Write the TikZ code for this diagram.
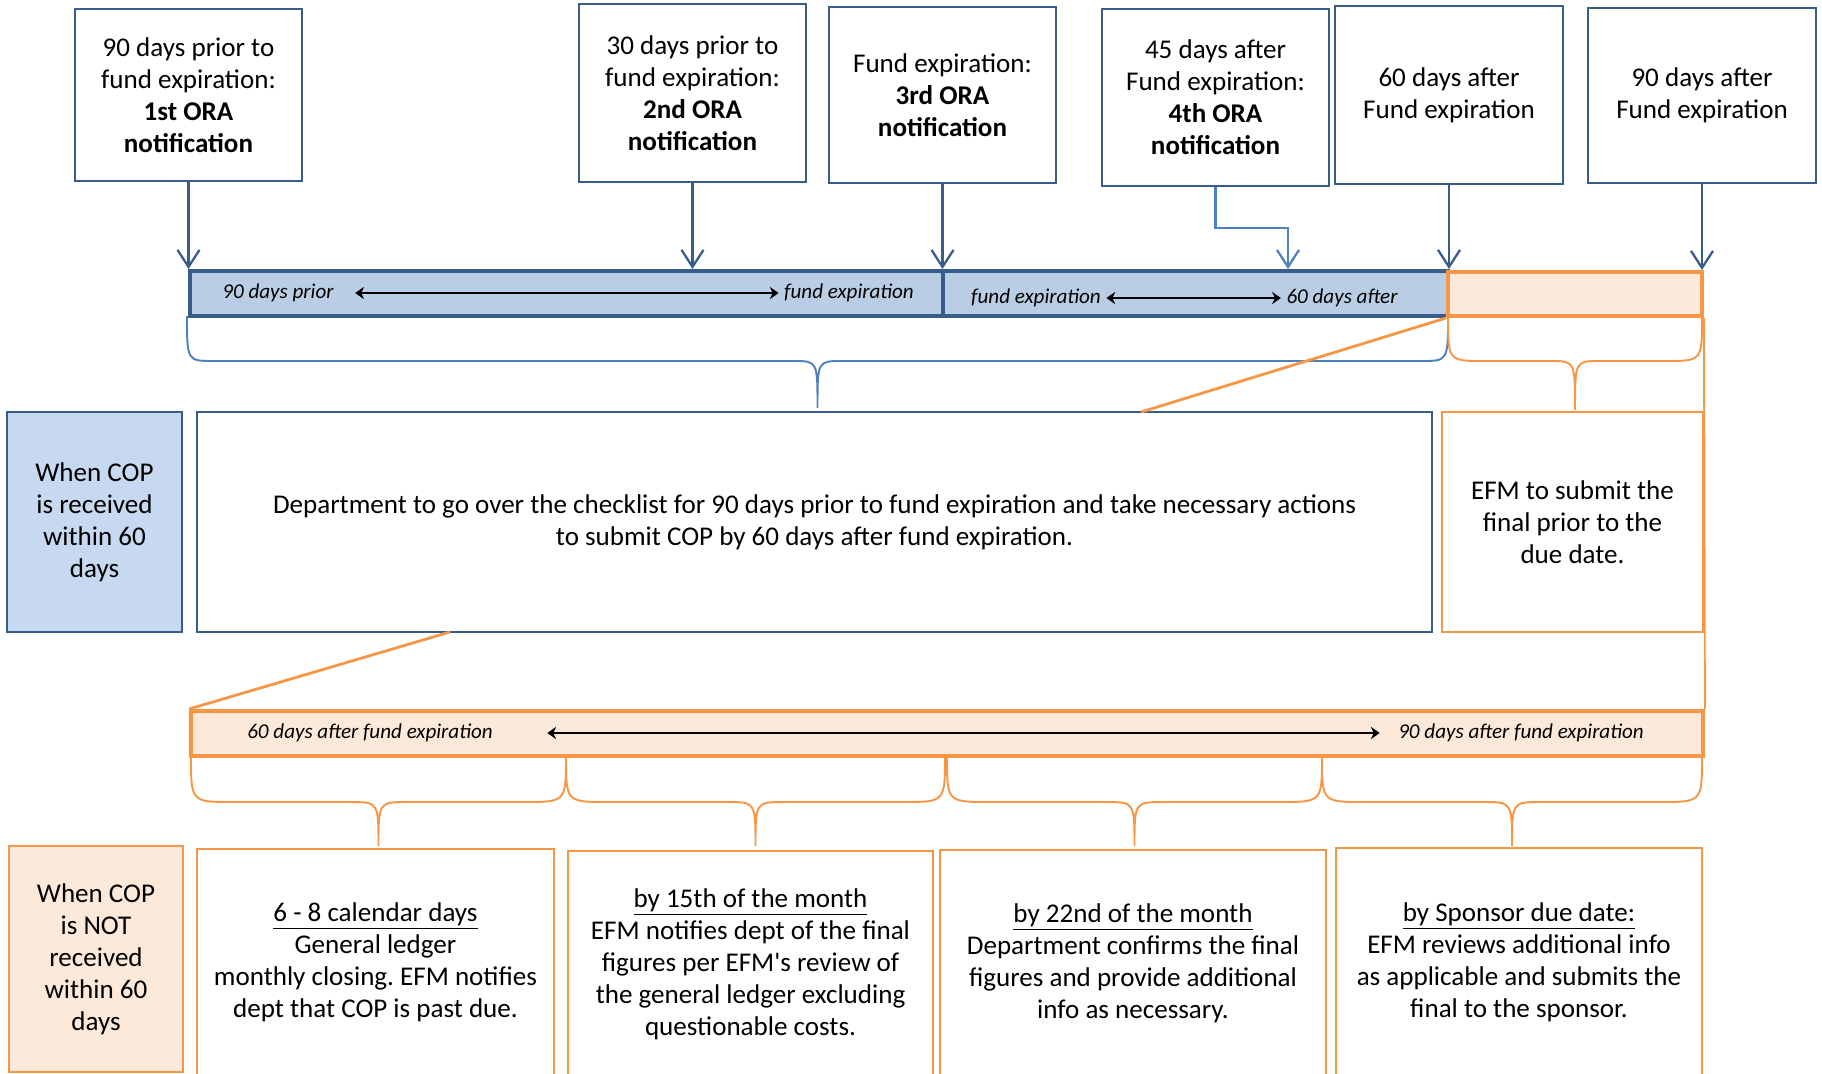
\documentclass[tikz,border=0pt]{standalone}
\usepackage{fontspec}
\setmainfont{Carlito}
\usetikzlibrary{arrows.meta}
\frenchspacing

\definecolor{navy}{HTML}{385D8A}
\definecolor{barblue}{HTML}{B9CDE5}
\definecolor{copblue}{HTML}{C6D9F1}
\definecolor{accblue}{HTML}{4F81BD}
\definecolor{accorange}{HTML}{F79646}
\definecolor{peach}{HTML}{FDE9D9}

\tikzset{
  notebox/.style={draw=navy, line width=1.4pt, fill=white, align=center, inner sep=0pt,
    font=\fontsize{15.4}{18.2}\selectfont},
  orangebox/.style={notebox, draw=accorange, line width=1.3pt},
  barseg/.style={draw=navy, line width=2.3pt, fill=barblue, inner sep=0pt},
  orangeseg/.style={draw=accorange, line width=2.3pt, fill=peach, inner sep=0pt},
  barlabel/.style={font=\itshape\fontsize{12}{14}\selectfont, inner sep=3pt},
  notearrow/.style={draw=navy, line width=1.3pt, -{Straight Barb[length=0.34cm, width=0.44cm]}},
  elbowarrow/.style={notearrow, draw=accblue},
  spanarrow/.style={line width=1.3pt, {Stealth[length=5pt, width=7pt]}-{Stealth[length=5pt, width=7pt]}},
  bluebrace/.style={draw=accblue, line width=1.1pt},
  orangebrace/.style={draw=accorange, line width=1.1pt},
  zoomline/.style={draw=accorange, line width=1.6pt},
}

% style, left x, right x, top y, bend y, tip y, end corner, mid corner
\newcommand{\curlybrace}[8]{%
  \draw[#1] (#2,#4) .. controls (#2,#5) .. ({#2+#7},#5)
    -- ({(#2+#3)/2-#8},#5) .. controls ({(#2+#3)/2},#5) .. ({(#2+#3)/2},#6)
    .. controls ({(#2+#3)/2},#5) .. ({(#2+#3)/2+#8},#5)
    -- ({#3-#7},#5) .. controls (#3,#5) .. (#3,#4);}

\begin{document}
\begin{tikzpicture}[x=0.02cm, y=-0.02cm]
  \useasboundingbox (0,0) rectangle (1822,1073);
  % Notifications
  \node[notebox, minimum width=4.54cm, minimum height=3.44cm] (n90p) at (188.5,95)
    {90 days prior to\\fund expiration:\\\textbf{1st ORA}\\\textbf{notification}};
  \node[notebox, minimum width=4.54cm, minimum height=3.56cm] (n30p) at (692.5,93)
    {30 days prior to\\fund expiration:\\\textbf{2nd ORA}\\\textbf{notification}};
  \node[notebox, minimum width=4.54cm, minimum height=3.52cm] (nexp) at (942.5,95)
    {Fund expiration:\\\textbf{3rd ORA}\\\textbf{notification}};
  \node[notebox, minimum width=4.54cm, minimum height=3.54cm] (n45a) at (1215.5,97.5)
    {45 days after\\Fund expiration:\\\textbf{4th ORA}\\\textbf{notification}};
  \node[notebox, minimum width=4.56cm, minimum height=3.56cm] (n60a) at (1449,95)
    {60 days after\\Fund expiration};
  \node[notebox, minimum width=4.56cm, minimum height=3.5cm] (n90a) at (1702,95.5)
    {90 days after\\Fund expiration};

  % Time line
  \node[barseg, minimum width=15.06cm, minimum height=0.9cm] (seg1) at (566.5,293.5) {};
  \node[barseg, minimum width=10.1cm, minimum height=0.9cm] (seg2) at (1195.5,293.5) {};
  \node[orangeseg, minimum width=5.08cm, minimum height=0.88cm] (oseg) at (1575,294) {};
  \node[barlabel] (lp90) at (278,293) {90 days prior};
  \node[barlabel] (lfx1) at (849,293) {fund expiration};
  \draw[spanarrow, shorten <=0.32cm] (lp90) -- (lfx1);
  \node[barlabel] (lfx2) at (1036,298) {fund expiration};
  \node[barlabel] (l60a) at (1342,298) {60 days after};
  \draw[spanarrow] (lfx2) -- (l60a);

  % Arrows to the time line
  \draw[notearrow] (n90p.south) -- (n90p.south |- seg1.north);
  \draw[notearrow] (n30p.south) -- (n30p.south |- seg1.north);
  \draw[notearrow] (nexp.south) -- (nexp.south |- seg1.north);
  \coordinate (k45) at (1288,269);
  \draw[elbowarrow] (n45a.south) -- ++(0,41) -| (k45);
  \draw[notearrow] (n60a.south) -- (n60a.south |- seg2.north);
  \draw[notearrow] (n90a.south) -- (n90a.south |- oseg.north);

  % Braces under the time line
  \curlybrace{bluebrace}{187}{1448}{316}{361}{408}{27}{24}
  \curlybrace{orangebrace}{1448}{1702}{316}{361}{410}{36}{24}

  % COP received within 60 days
  \node[notebox, fill=copblue, minimum width=3.5cm, minimum height=4.4cm] (cop1) at (94.5,522)
    {When COP\\is received\\within 60\\days};
  \node[notebox, minimum width=24.7cm, minimum height=4.4cm] (plan) at (814.5,522)
    {Department to go over the checklist for 90 days prior to fund expiration and take necessary actions\\
     to submit COP by 60 days after fund expiration.};
  \node[orangebox, minimum width=5.22cm, minimum height=4.4cm] (efm) at (1572.5,522)
    {EFM to submit the\\final prior to the\\due date.};

  % Second time line
  \node[orangeseg, minimum width=30.24cm, minimum height=0.9cm] (obar) at (947,733.5) {};
  \node[barlabel] (l60f) at (370,733) {60 days after fund expiration};
  \node[barlabel] (l90f) at (1521,733) {90 days after fund expiration};
  \draw[spanarrow, shorten <=0.98cm, shorten >=0.26cm] (l60f) -- (l90f);

  % Zoom lines
  \coordinate (zA) at (1141,412);
  \coordinate (zB) at (450,632);
  \draw[zoomline] (oseg.south west) -- (zA);
  \draw[zoomline] (zB) -- (obar.north west);
  \draw[orangebrace] (oseg.south east) -- (obar.north east);

  % Braces under the second time line
  \curlybrace{orangebrace}{191}{566}{756}{802}{846}{42}{29}
  \curlybrace{orangebrace}{566}{945}{756}{802}{846}{42}{29}
  \curlybrace{orangebrace}{947}{1322}{756}{802}{846}{42}{29}
  \curlybrace{orangebrace}{1322}{1702}{756}{802}{846}{42}{29}

  % COP not received within 60 days
  \node[orangebox, line width=1.4pt, fill=peach, minimum width=3.48cm, minimum height=4.52cm] (cop2) at (96,959)
    {When COP\\is NOT\\received\\within 60\\days};
  \node[orangebox, line width=1.4pt, minimum width=7.14cm, minimum height=4.54cm] (step1) at (375.5,962.5)
    {\underline{6 - 8 calendar days}\\General ledger\\monthly closing. EFM notifies\\dept that COP is past due.};
  \node[orangebox, line width=1.4pt, minimum width=7.3cm, minimum height=4.54cm] (step2) at (750.5,964.5)
    {\underline{by 15th of the month}\\EFM notifies dept of the final\\figures per EFM\textquotesingle s review of\\the general ledger excluding\\questionable costs.};
  \node[orangebox, line width=1.4pt, minimum width=7.72cm, minimum height=4.52cm] (step3) at (1133,963)
    {\underline{by 22nd of the month}\\Department confirms the final\\figures and provide additional\\info as necessary.};
  \node[orangebox, line width=1.4pt, minimum width=7.32cm, minimum height=4.58cm] (step4) at (1519,962.5)
    {\underline{by Sponsor due date:}\\EFM reviews additional info\\as applicable and submits the\\final to the sponsor.};
\end{tikzpicture}
\end{document}
